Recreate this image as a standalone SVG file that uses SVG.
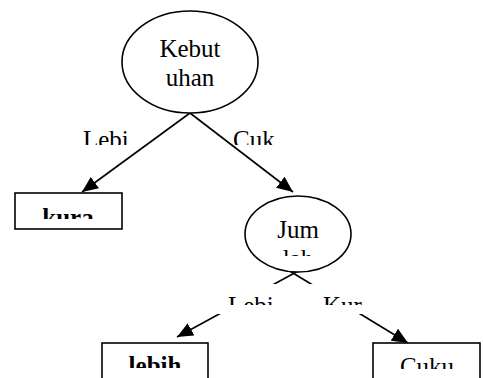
<svg xmlns="http://www.w3.org/2000/svg" width="483" height="378" viewBox="0 0 483 378">
<style>
.shape{fill:#fff;stroke:#000;stroke-width:1.6}
.edge{stroke:#000;stroke-width:1.6;fill:none}
.t{font-family:"Liberation Serif","Times New Roman",Times,serif;font-size:25px;fill:#000}
.b{font-weight:bold}
.mask{fill:#fff;stroke:none}
</style>
<defs>
<marker id="arr" markerUnits="userSpaceOnUse" markerWidth="17" markerHeight="14" refX="16" refY="7" orient="auto">
<path d="M0,0 L16,7 L0,14 z" fill="#000"/>
</marker>
<clipPath id="cKura"><rect x="15" y="193" width="107" height="26"/></clipPath>
<clipPath id="cJum"><rect x="240" y="195" width="120" height="61"/></clipPath>
<clipPath id="cL1"><rect x="70" y="120" width="80" height="25"/></clipPath>
<clipPath id="cC1"><rect x="225" y="120" width="80" height="25"/></clipPath>
<clipPath id="cL2"><rect x="205" y="284" width="90" height="21"/></clipPath>
<clipPath id="cK2"><rect x="300" y="284" width="85" height="21"/></clipPath>
<clipPath id="cLebih"><rect x="102" y="343" width="106" height="25"/></clipPath>
<clipPath id="cCuku"><rect x="373" y="343" width="107" height="26"/></clipPath>
</defs>

<g id="connectors">
<line class="edge" x1="190" y1="113" x2="82" y2="192" marker-end="url(#arr)"/>
<line class="edge" x1="190" y1="113" x2="293" y2="192" marker-end="url(#arr)"/>
<line class="edge" x1="300" y1="270" x2="177" y2="337" marker-end="url(#arr)"/>
<line class="edge" x1="288" y1="270" x2="408" y2="343" marker-end="url(#arr)"/>
</g>

<g id="label-lebi-1">
<text class="t" x="83" y="148" clip-path="url(#cL1)">Lebi</text>
</g>
<g id="label-cuk">
<text class="t" x="233" y="148" clip-path="url(#cC1)">Cuk</text>
</g>
<g id="label-lebi-2">
<rect class="mask" x="205" y="284" width="90" height="30"/>
<text class="t" x="228" y="314" clip-path="url(#cL2)">Lebi</text>
</g>
<g id="label-kur">
<rect class="mask" x="300" y="284" width="85" height="30"/>
<text class="t" x="323" y="314" clip-path="url(#cK2)">Kur</text>
</g>

<g id="node-kebutuhan">
<ellipse class="shape" cx="190" cy="62" rx="68" ry="51"/>
<text class="t" x="190" y="57" text-anchor="middle">Kebut</text>
<text class="t" x="190" y="86" text-anchor="middle">uhan</text>
</g>

<g id="node-kura">
<rect class="shape" x="15" y="193" width="107" height="36"/>
<text class="t b" x="68" y="226" text-anchor="middle" clip-path="url(#cKura)">kura</text>
</g>

<g id="node-jumlah">
<ellipse class="shape" cx="298" cy="234" rx="53" ry="38"/>
<g clip-path="url(#cJum)">
<text class="t" x="298" y="238" text-anchor="middle">Jum</text>
<text class="t" x="298" y="267" text-anchor="middle">lah</text>
</g>
</g>

<g id="node-lebih">
<rect class="shape" x="102" y="343" width="106" height="45"/>
<text class="t b" x="155" y="374" text-anchor="middle" clip-path="url(#cLebih)">lebih</text>
</g>

<g id="node-cuku">
<rect class="shape" x="373" y="343" width="107" height="45"/>
<text class="t" x="427" y="375" text-anchor="middle" clip-path="url(#cCuku)">Cuku</text>
</g>
</svg>
